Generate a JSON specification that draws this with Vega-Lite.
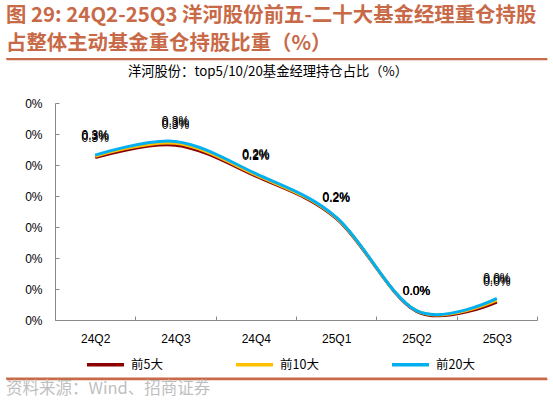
{
  "$schema": "https://vega.github.io/schema/vega-lite/v6.json",
  "padding": {"left": 6, "right": 6, "top": 5, "bottom": 0},
  "config": {"view": {"stroke": null}, "font": "Liberation Sans"},
  "title": {
    "text": ["图 29: 24Q2-25Q3 洋河股份前五-二十大基金经理重仓持股", "占整体主动基金重仓持股比重（%）"],
    "anchor": "start", "fontSize": 20.4, "fontWeight": "bold", "font": "Noto Sans CJK SC",
    "color": "#C86A47", "lineHeight": 28, "offset": 4
  },
  "spacing": 5,
  "resolve": {"scale": {"x": "independent", "y": "independent"}},
  "vconcat": [
    {
      "width": 482, "height": 1,
      "data": {"values": [{"a": 0, "b": 1, "lo": 0, "hi": 1}]},
      "mark": {"type": "rect", "color": "#C86A47"},
      "encoding": {
        "x": {"field": "a", "type": "quantitative", "scale": {"domain": [0, 1], "range": [-49, 492]},
          "axis": {"orient": "bottom", "domain": true, "domainColor": "#C86A47", "domainWidth": 1.5, "ticks": false, "labels": false, "grid": false, "title": null}},
        "x2": {"field": "b"},
        "y": {"field": "lo", "type": "quantitative", "scale": {"domain": [0, 1]}, "axis": null},
        "y2": {"field": "hi"}
      }
    },
    {
      "width": 482, "height": 217,
      "title": {"text": "洋河股份：top5/10/20基金经理持仓占比（%）", "fontSize": 13.3, "fontWeight": "normal", "font": "Noto Sans CJK SC", "color": "#000000", "anchor": "middle", "dx": -28, "offset": 19},
      "data": {"values": [
        {"quarter": "24Q2", "series": "前5大", "value": 0.00262},
        {"quarter": "24Q3", "series": "前5大", "value": 0.00282},
        {"quarter": "24Q4", "series": "前5大", "value": 0.00232},
        {"quarter": "25Q1", "series": "前5大", "value": 0.00164},
        {"quarter": "25Q2", "series": "前5大", "value": 0.00014},
        {"quarter": "25Q3", "series": "前5大", "value": 0.00029},
        {"quarter": "24Q2", "series": "前10大", "value": 0.00264},
        {"quarter": "24Q3", "series": "前10大", "value": 0.00285},
        {"quarter": "24Q4", "series": "前10大", "value": 0.00234},
        {"quarter": "25Q1", "series": "前10大", "value": 0.00165},
        {"quarter": "25Q2", "series": "前10大", "value": 0.00015},
        {"quarter": "25Q3", "series": "前10大", "value": 0.00032},
        {"quarter": "24Q2", "series": "前20大", "value": 0.00266},
        {"quarter": "24Q3", "series": "前20大", "value": 0.00288},
        {"quarter": "24Q4", "series": "前20大", "value": 0.00236},
        {"quarter": "25Q1", "series": "前20大", "value": 0.00166},
        {"quarter": "25Q2", "series": "前20大", "value": 0.00015},
        {"quarter": "25Q3", "series": "前20大", "value": 0.00035}
      ]},
      "encoding": {
        "x": {"field": "quarter", "type": "ordinal", "sort": null,
          "scale": {"type": "band", "paddingInner": 0, "paddingOuter": 0},
          "axis": {"title": null, "labelAngle": 0, "tickBand": "extent", "labelFontSize": 12, "labelColor": "#000000",
            "domainColor": "#898989", "tickColor": "#898989", "tickSize": -4, "labelPadding": 17}},
        "y": {"field": "value", "type": "quantitative",
          "scale": {"domain": [0, 0.0035], "nice": false},
          "axis": {"title": null, "values": [0, 0.0005, 0.001, 0.0015, 0.002, 0.0025, 0.003, 0.0035], "format": ".0%",
            "grid": false, "labelFontSize": 12, "labelColor": "#000000", "domainColor": "#898989", "tickColor": "#898989",
            "tickSize": -4, "labelPadding": 17, "minExtent": 49, "maxExtent": 49}},
        "color": {"field": "series", "type": "nominal",
          "scale": {"domain": ["前5大", "前10大", "前20大"], "range": ["#8B0000", "#FFC000", "#00B0F0"]},
          "legend": {"orient": "none", "legendX": 30, "legendY": 286, "direction": "horizontal", "title": null,
            "symbolType": "stroke", "symbolSize": 1369, "symbolStrokeWidth": 3.5, "labelFontSize": 12.5,
            "labelFont": "Noto Sans CJK SC", "labelColor": "#000000", "columnPadding": 66, "labelOffset": 5}}
      },
      "layer": [
        {"mark": {"type": "line", "interpolate": "cardinal", "tension": 0, "strokeWidth": 3}},
        {"mark": {"type": "text", "dy": -20, "fontSize": 12, "font": "Liberation Sans", "color": "#000000"},
          "encoding": {"text": {"field": "value", "type": "quantitative", "format": ".1%"}, "color": {"value": "#000000"}}}
      ]
    },
    {
      "width": 482, "height": 30,
      "data": {"values": [{"a": 0, "b": 1, "lo": 0, "hi": 0.05}]},
      "title": {"text": "资料来源：Wind、招商证券", "orient": "bottom", "anchor": "start", "fontSize": 16.5, "fontWeight": "normal",
        "font": "Noto Sans CJK SC", "color": "#BFBFBF", "offset": 2},
      "mark": {"type": "rect", "color": "#C86A47"},
      "encoding": {
        "x": {"field": "a", "type": "quantitative", "scale": {"domain": [0, 1], "range": [-49, 492]},
          "axis": {"orient": "bottom", "domain": true, "domainColor": "#C86A47", "domainWidth": 1.5, "ticks": false, "labels": false, "grid": false, "title": null}},
        "x2": {"field": "b"},
        "y": {"field": "lo", "type": "quantitative", "scale": {"domain": [0, 1]}, "axis": null},
        "y2": {"field": "hi"}
      }
    }
  ]
}
